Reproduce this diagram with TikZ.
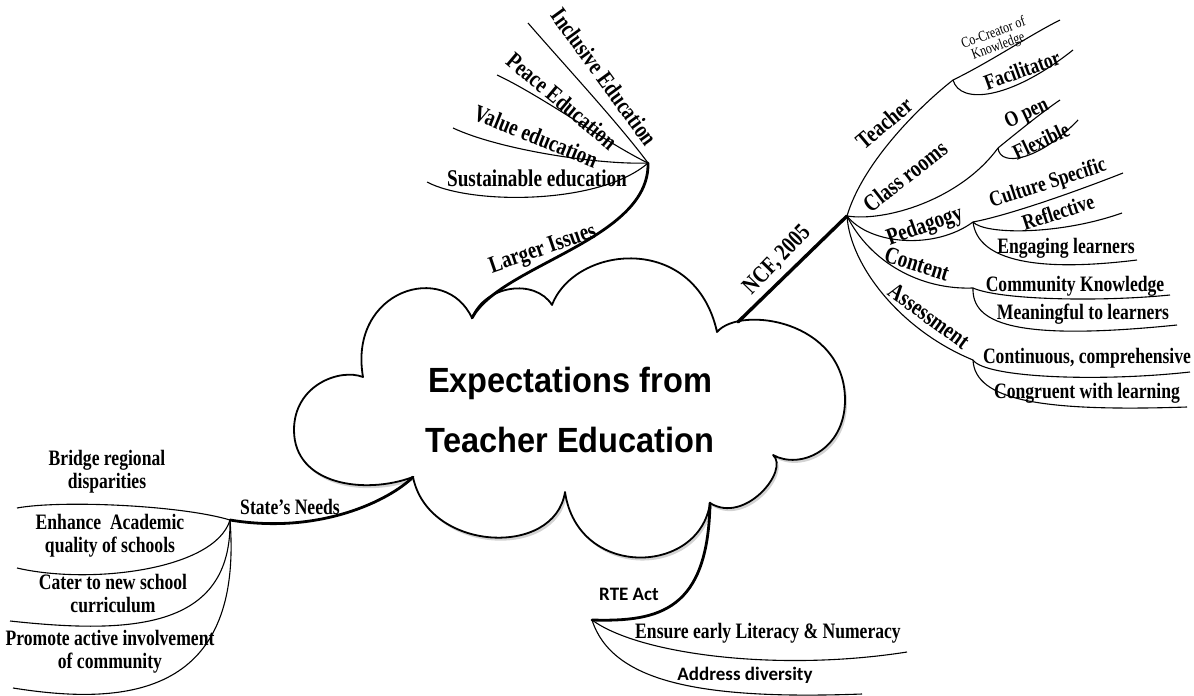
\documentclass[tikz,border=0pt]{standalone}
\usepackage{fontspec}
\newfontfamily\labelfont[FakeStretch=0.8]{Liberation Serif}
\newfontfamily\titlefont[FakeStretch=0.93]{Liberation Sans}
\newfontfamily\actfont{Carlito}
\usetikzlibrary{shadows}

\begin{document}
\begin{tikzpicture}[x=1pt, y=-1pt,
                cloudline/.style={draw, line width=1.8pt, fill=white, line join=round,
                           drop shadow={opacity=0.35, shadow xshift=2pt, shadow yshift=-3pt}},
                limb/.style={line width=2.8pt, line cap=round},
                twig/.style={line width=1.1pt},
                lbl/.style={font=\labelfont\bfseries\fontsize{22}{23}\selectfont, inner sep=0pt, align=center},
                midlbl/.style={font=\labelfont\bfseries\fontsize{24}{26}\selectfont, inner sep=0pt},
                tinylbl/.style={font=\labelfont\fontsize{15}{14}\selectfont, inner sep=0pt, align=center},
                actlbl/.style={font=\actfont\bfseries\fontsize{19}{21}\selectfont, inner sep=0pt}]

                \useasboundingbox (0,0) rectangle (1194,696);

                % Cloud in the middle
                \coordinate (cuspI) at (472,318);
                \coordinate (cuspR) at (710,503);
                \coordinate (cuspS) at (413,477);
                \coordinate (ncfroot) at (738,322);
                \draw[cloudline] (363,377) .. controls (348,290) and (445,260) .. (cuspI)
                    .. controls (485,285) and (535,278) .. (552,305)
                    .. controls (575,245) and (695,232) .. (717,332)
                    .. controls (740,305) and (845,320) .. (845,400)
                    .. controls (845,450) and (800,470) .. (773,455)
                    .. controls (790,470) and (745,525) .. (cuspR)
                    .. controls (700,575) and (578,580) .. (565,492)
                    .. controls (555,558) and (428,552) .. (cuspS)
                    .. controls (365,495) and (294,485) .. (294,430)
                    .. controls (294,385) and (340,368) .. (363,377) -- cycle;
                \node[font=\titlefont\bfseries\fontsize{35}{60}\selectfont, align=center]
                    (title) at (570,410) {Expectations from\\Teacher Education};

                % Larger Issues branch at top
                \coordinate (issues) at (648,163);
                \draw[limb] (cuspI) .. controls (500,265) and (650,240) .. (issues);
                \node[midlbl, rotate=19] (issueslbl) at (543,250) {Larger Issues};
                \coordinate (inclend) at (528,23);
                \draw[twig] (issues) .. controls (620,125) and (560,60) .. (inclend);
                \node[midlbl, rotate=-54] (incl) at (604,77) {Inclusive Education};
                \coordinate (peaceend) at (497,75);
                \draw[twig] (issues) .. controls (610,145) and (540,95) .. (peaceend);
                \node[midlbl, rotate=-40] (peace) at (562,101) {Peace Education};
                \coordinate (valueend) at (453,128);
                \draw[twig] (issues) .. controls (600,165) and (500,150) .. (valueend);
                \node[midlbl, rotate=-22] (value) at (536,136) {Value education};
                \coordinate (sustend) at (427,182);
                \draw[twig] (issues) .. controls (600,205) and (470,205) .. (sustend);
                \node[midlbl] (sust) at (537,178) {Sustainable education};

                % NCF, 2005 branch at right
                \coordinate (ncf) at (847,216);
                \draw[limb, line width=3.4pt] (ncfroot) -- (ncf);
                \node[midlbl, rotate=46] (ncflbl) at (777,260) {NCF, 2005};

                % Teacher
                \coordinate (teacher) at (953,80);
                \draw[twig] (ncf) .. controls (862,165) and (915,110) .. (teacher);
                \node[midlbl, rotate=40] (teacherlbl) at (884,123) {Teacher};
                \coordinate (cocreend) at (1060,20);
                \draw[twig] (teacher) .. controls (990,62) and (1030,35) .. (cocreend);
                \node[tinylbl, rotate=20] (cocre) at (996,40) {Co-Creator of\\Knowledge};
                \coordinate (facilend) at (1073,50);
                \draw[twig] (teacher) .. controls (960,105) and (1010,100) .. (facilend);
                \node[lbl, rotate=20] (facil) at (1022,70) {Facilitator};

                % Class rooms
                \coordinate (rooms) at (998,148);
                \draw[twig] (ncf) .. controls (885,222) and (960,200) .. (rooms);
                \node[midlbl, rotate=38] (roomslbl) at (905,176) {Class rooms};
                \coordinate (openend) at (1060,100);
                \draw[twig] (rooms) .. controls (1020,130) and (1045,110) .. (openend);
                \node[lbl, rotate=25] (open) at (1027,114) {O pen};
                \coordinate (flexend) at (1078,120);
                \draw[twig] (rooms) .. controls (1000,168) and (1040,160) .. (flexend);
                \node[lbl, rotate=25] (flex) at (1041,141) {Flexible};

                % Pedagogy
                \coordinate (peda) at (973,222);
                \draw[twig] (ncf) .. controls (870,245) and (935,250) .. (peda);
                \node[midlbl, rotate=20] (pedalbl) at (925,227) {Pedagogy};
                \coordinate (cultend) at (1123,173);
                \draw[twig] (peda) .. controls (1010,215) and (1080,190) .. (cultend);
                \node[lbl, rotate=18] (cult) at (1048,184) {Culture Specific};
                \coordinate (reflend) at (1122,213);
                \draw[twig] (peda) .. controls (985,235) and (1060,235) .. (reflend);
                \node[lbl, rotate=18] (refl) at (1058,212) {Reflective};
                \coordinate (engend) at (1137,260);
                \draw[twig] (peda) .. controls (978,262) and (1040,272) .. (engend);
                \node[lbl] (eng) at (1066,248) {Engaging learners};

                % Content
                \coordinate (content) at (973,288);
                \draw[twig] (ncf) .. controls (870,262) and (920,290) .. (content);
                \node[midlbl, rotate=-17] (contentlbl) at (917,264) {Content};
                \coordinate (commend) at (1170,295);
                \draw[twig] (content) .. controls (1000,300) and (1100,302) .. (commend);
                \node[lbl] (comm) at (1075,286) {Community Knowledge};
                \coordinate (meanend) at (1177,325);
                \draw[twig] (content) .. controls (972,322) and (1010,342) .. (meanend);
                \node[lbl] (mean) at (1083,314) {Meaningful to learners};

                % Assessment
                \coordinate (assess) at (973,360);
                \draw[twig] (ncf) .. controls (850,265) and (900,330) .. (assess);
                \node[midlbl, rotate=-36] (assesslbl) at (929,316) {Assessment};
                \coordinate (contend) at (1190,372);
                \draw[twig] (assess) .. controls (985,378) and (1100,382) .. (contend);
                \node[lbl] (cont) at (1087,358) {Continuous, comprehensive};
                \coordinate (congend) at (1187,407);
                \draw[twig] (assess) .. controls (975,400) and (1040,412) .. (congend);
                \node[lbl] (cong) at (1087,393) {Congruent with learning};

                % State's Needs branch at left
                \coordinate (state) at (230,520);
                \draw[limb] (cuspS) .. controls (390,500) and (320,535) .. (state);
                \node[lbl] (statelbl) at (290,507) {State’s Needs};
                \coordinate (bridgeend) at (17,508);
                \draw[twig] (state) .. controls (180,505) and (60,500) .. (bridgeend);
                \node[lbl] (bridge) at (107,472) {Bridge regional\\disparities};
                \coordinate (enhend) at (17,568);
                \draw[twig] (state) .. controls (215,570) and (90,585) .. (enhend);
                \node[lbl] (enh) at (110,536) {Enhance~ Academic\\quality of schools};
                \coordinate (caterend) at (10,621);
                \draw[twig] (state) .. controls (232,630) and (130,634) .. (caterend);
                \node[lbl] (cater) at (113,593) {Cater to new school\\curriculum};
                \coordinate (promend) at (13,688);
                \draw[twig] (state) .. controls (244,700) and (120,705) .. (promend);
                \node[lbl] (prom) at (110,652) {Promote active involvement\\of community};

                % RTE Act branch at bottom
                \coordinate (rte) at (592,620);
                \draw[limb] (cuspR) .. controls (708,610) and (660,622) .. (rte);
                \node[actlbl] (rtelbl) at (629,594) {RTE Act};
                \coordinate (ensureend) at (907,652);
                \draw[twig] (rte) .. controls (640,655) and (780,672) .. (ensureend);
                \node[lbl] (ensure) at (768,633) {Ensure early Literacy \& Numeracy};
                \coordinate (addrend) at (862,694);
                \draw[twig] (rte) .. controls (612,682) and (700,700) .. (addrend);
                \node[actlbl] (addr) at (745,675) {Address diversity};
            \end{tikzpicture}
\end{document}
